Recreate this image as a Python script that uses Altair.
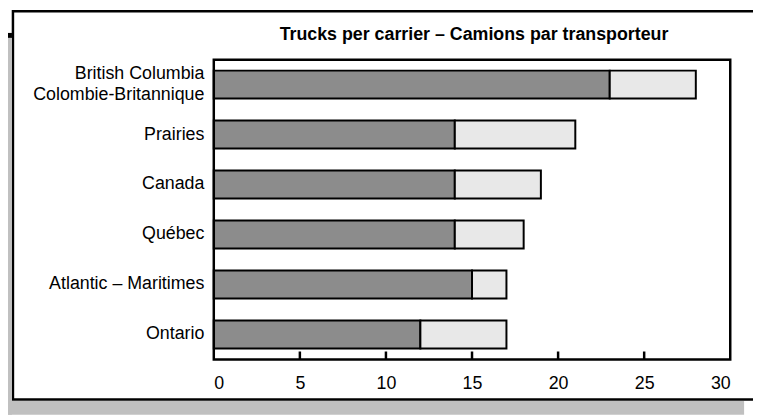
import altair as alt
import pandas as pd

regions = ["British Columbia|Colombie-Britannique", "Prairies", "Canada", "Québec",
           "Atlantic – Maritimes", "Ontario"]
dark_values = [23, 14, 14, 14, 15, 12]
total_values = [28, 21, 19, 18, 17, 17]
tick_values = [5, 10, 15, 20, 25]
axis_values = [0, 5, 10, 15, 20, 25, 30]
title_text = "Trucks per carrier – Camions par transporteur"

DARK = "#8c8c8c"
LIGHT = "#e8e8e8"
GREY = "#c0c0c0"
FONT = "Liberation Sans"
W, H = 522, 303

rows = []
for r, d, t in zip(regions, dark_values, total_values):
    rows.append({"region": r, "part": "a", "ord": 0, "value": d})
    rows.append({"region": r, "part": "b", "ord": 1, "value": t - d})
df = pd.DataFrame(rows)
ticks_df = pd.DataFrame({"t": tick_values})
one = pd.DataFrame({"a": [0]})
title_df = pd.DataFrame({"title": [title_text]})

xscale = alt.Scale(domain=[0, 30], nice=False, zero=True)
xaxis = alt.Axis(values=axis_values, title=None, ticks=False, domain=False, grid=False,
                 labelFontSize=18, labelFont=FONT, labelColor="black", labelPadding=15,
                 zindex=1)


def deco_rect(x, x2, y, y2, fill, stroke=None, sw=0):
    kw = {}
    if stroke:
        kw = {"stroke": stroke, "strokeWidth": sw}
    return alt.Chart(one).mark_rect(fill=fill, **kw).encode(
        x=alt.value(x), x2=alt.value(x2), y=alt.value(y), y2=alt.value(y2))


box = deco_rect(-203, 600, -49, 343.5, "white", "black", 2.5)
grey_left = deco_rect(-208, -204, -22, 359, GREY)
grey_bottom = deco_rect(-208, 536, 345, 359, GREY)
black_line = deco_rect(-208, -204, -27, -22, "black")

title = alt.Chart(title_df).mark_text(
    font=FONT, fontSize=18, fontWeight="bold", color="black",
    align="center", baseline="alphabetic",
).encode(text="title:N", x=alt.value(W / 2 + 2), y=alt.value(-20))

bars = alt.Chart(df).mark_bar(stroke="black", strokeWidth=2).encode(
    x=alt.X("value:Q", stack="zero", scale=xscale, axis=xaxis),
    y=alt.Y("region:N", sort=regions, title=None,
            scale=alt.Scale(paddingInner=0.44, paddingOuter=0.22),
            axis=alt.Axis(ticks=False, domain=False, grid=False, labelFontSize=18,
                          labelFont=FONT, labelColor="black", labelPadding=10,
                          labelLineHeight=22, labelLimit=300, zindex=1,
                          labelOffset={"condition": {"test": "indexof(datum.value, '|') >= 0",
                                                     "value": -11},
                                       "value": 0},
                          labelExpr="split(datum.label, '|')")),
    color=alt.Color("part:N", scale=alt.Scale(domain=["a", "b"], range=[DARK, LIGHT]),
                    legend=None),
    order=alt.Order("ord:Q"),
)

frame = alt.Chart(one).mark_rect(fill=None, stroke="black", strokeWidth=2.5).encode(
    x=alt.value(0), x2=alt.value(W), y=alt.value(0), y2=alt.value(H))

tick_marks = alt.Chart(ticks_df).mark_rule(color="black", strokeWidth=2.5).encode(
    x=alt.X("t:Q", scale=xscale, axis=xaxis),
    y=alt.value(H - 8), y2=alt.value(H),
)

chart = alt.layer(box, grey_left, grey_bottom, black_line, title, bars, frame, tick_marks).properties(
    width=W, height=H,
    autosize=alt.AutoSizeParams(type="none"),
    padding={"left": 208, "top": 50, "right": 23, "bottom": 56},
    background="white",
).configure_view(stroke=None)

chart.save("out.html", embed_options={"renderer": "svg", "actions": False})
